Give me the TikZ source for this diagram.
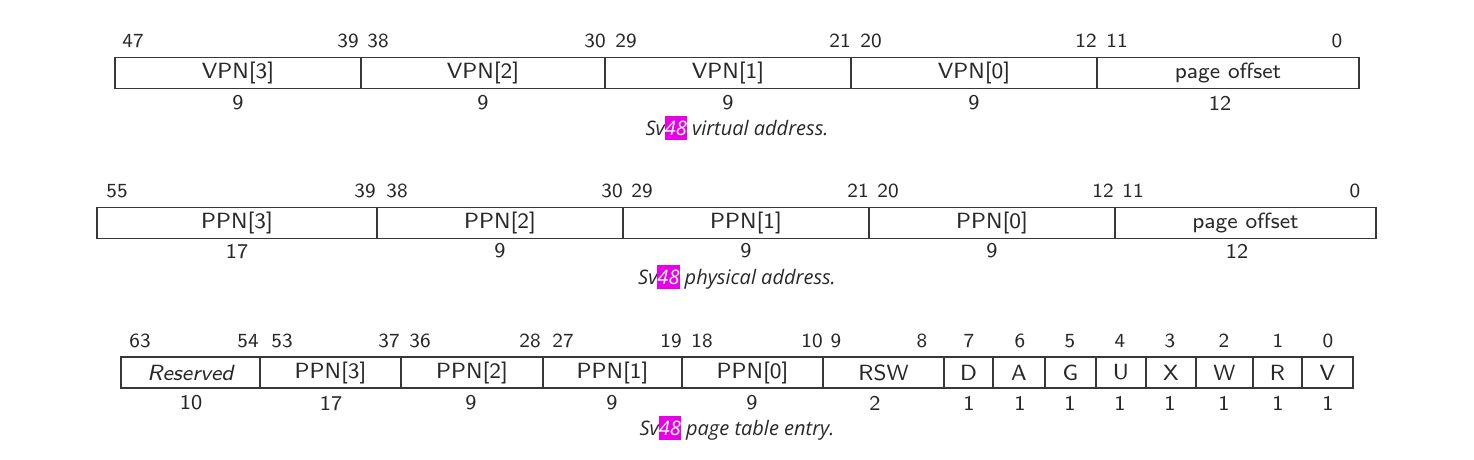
\documentclass[tikz,border=0pt]{standalone}
\usepackage{fontspec}
\newfontfamily\capfont{Open Sans}
\newfontfamily\lmss[Extension=.otf, ItalicFont=lmsans8-oblique]{lmsans8-regular}
\definecolor{ink}{RGB}{40,40,40}
\definecolor{rule}{RGB}{55,55,55}
\definecolor{hl}{RGB}{232,0,232}
\tikzset{
  fld/.style={draw=rule, line width=1.4pt, inner sep=0pt, minimum height=31pt, text=ink, font=\lmss\fontsize{22}{26}\selectfont},
  bitno/.style={inner sep=0pt, text=ink, font=\lmss\fontsize{20}{24}\selectfont},
  wid/.style={inner sep=0pt, text=ink, font=\lmss\fontsize{21}{24}\selectfont},
  captext/.style={inner sep=0pt, text=ink, font=\capfont\itshape\fontsize{20}{24}\selectfont}
}
\newcommand{\hlnum}[1]{{\setlength{\fboxsep}{0pt}\colorbox{hl}{\textcolor{white}{\rule[-5pt]{0pt}{24pt}#1}}}}
\begin{document}
\begin{tikzpicture}[x=1pt,y=-1pt]
\useasboundingbox (0,0) rectangle (1474,460);
% ---------- Row 1: virtual address
\node[fld, minimum width=246pt] (v3) at (238,73) {VPN[3]};
\node[fld, minimum width=244pt] (v2) at (483,73) {VPN[2]};
\node[fld, minimum width=246pt] (v1) at (728,73) {VPN[1]};
\node[fld, minimum width=246pt] (v0) at (974,73) {VPN[0]};
\node[fld, minimum width=262pt] (vo) at (1228,73) {page offset};
\foreach \n/\x in {47/133,39/348,38/378,30/595,29/626,21/840,20/871,12/1086,11/1117,0/1337}
  \node[bitno] (a\n) at (\x,41) {\n};
\node[wid] (vw3) at (238,103) {9};
\node[wid] (vw2) at (483,103) {9};
\node[wid] (vw1) at (728,103) {9};
\node[wid] (vw0) at (974,103) {9};
\node[wid] (vwo) at (1220,103) {12};
\node[captext] (c1) at (737,128) {Sv\hlnum{48} virtual address.};
% ---------- Row 2: physical address
\node[fld, minimum width=280pt] (p3) at (237,223) {PPN[3]};
\node[fld, minimum width=246pt] (p2) at (500,223) {PPN[2]};
\node[fld, minimum width=246pt] (p1) at (746,223) {PPN[1]};
\node[fld, minimum width=246pt] (p0) at (992,223) {PPN[0]};
\node[fld, minimum width=261pt] (po) at (1245.5,223) {page offset};
\foreach \n/\x in {55/117,39/365,38/397,30/612,29/642,21/858,20/888,12/1103,11/1133,0/1355}
  \node[bitno] (b\n) at (\x,191) {\n};
\node[wid] (pw3) at (237,251) {17};
\node[wid] (pw2) at (500,251) {9};
\node[wid] (pw1) at (746,251) {9};
\node[wid] (pw0) at (992,251) {9};
\node[wid] (pwo) at (1237,251) {12};
\node[captext] (c2) at (737,277) {Sv\hlnum{48} physical address.};
% ---------- Row 3: page table entry
\node[fld, minimum width=139pt] (er) at (190.5,372.5) {\itshape Reserved};
\node[fld, minimum width=141pt] (e3) at (330.5,372.5) {PPN[3]};
\node[fld, minimum width=142pt] (e2) at (472,372.5) {PPN[2]};
\node[fld, minimum width=139pt] (e1) at (612.5,372.5) {PPN[1]};
\node[fld, minimum width=141pt] (e0) at (752.5,372.5) {PPN[0]};
\node[fld, minimum width=121pt] (ersw) at (883.5,372.5) {RSW};
\node[fld, minimum width=49pt] (eD) at (968.5,372.5) {D};
\node[fld, minimum width=52pt] (eA) at (1019,372.5) {A};
\node[fld, minimum width=51pt] (eG) at (1070.5,372.5) {G};
\node[fld, minimum width=50pt] (eU) at (1121,372.5) {U};
\node[fld, minimum width=50pt] (eX) at (1171,372.5) {X};
\node[fld, minimum width=57pt] (eW) at (1224.5,372.5) {W};
\node[fld, minimum width=49pt] (eR) at (1277.5,372.5) {R};
\node[fld, minimum width=51pt] (eV) at (1327.5,372.5) {V};
\foreach \n/\x in {63/140,54/248,53/282,37/389,36/420,28/530,27/563,19/671,18/702,10/812,9/836,8/922,7/969,6/1020,5/1070,4/1120,3/1170,2/1224,1/1278,0/1328}
  \node[bitno] (e\n) at (\x,341) {\n};
\foreach \w/\x [count=\i] in {10/191,17/331,9/471,9/612,9/752,2/875,1/969,1/1020,1/1070,1/1120,1/1170,1/1224,1/1278,1/1328}
  \node[wid] (ew\i) at (\x,403) {\w};
\node[captext] (c3) at (737,428) {Sv\hlnum{48} page table entry.};
\end{tikzpicture}
\end{document}
